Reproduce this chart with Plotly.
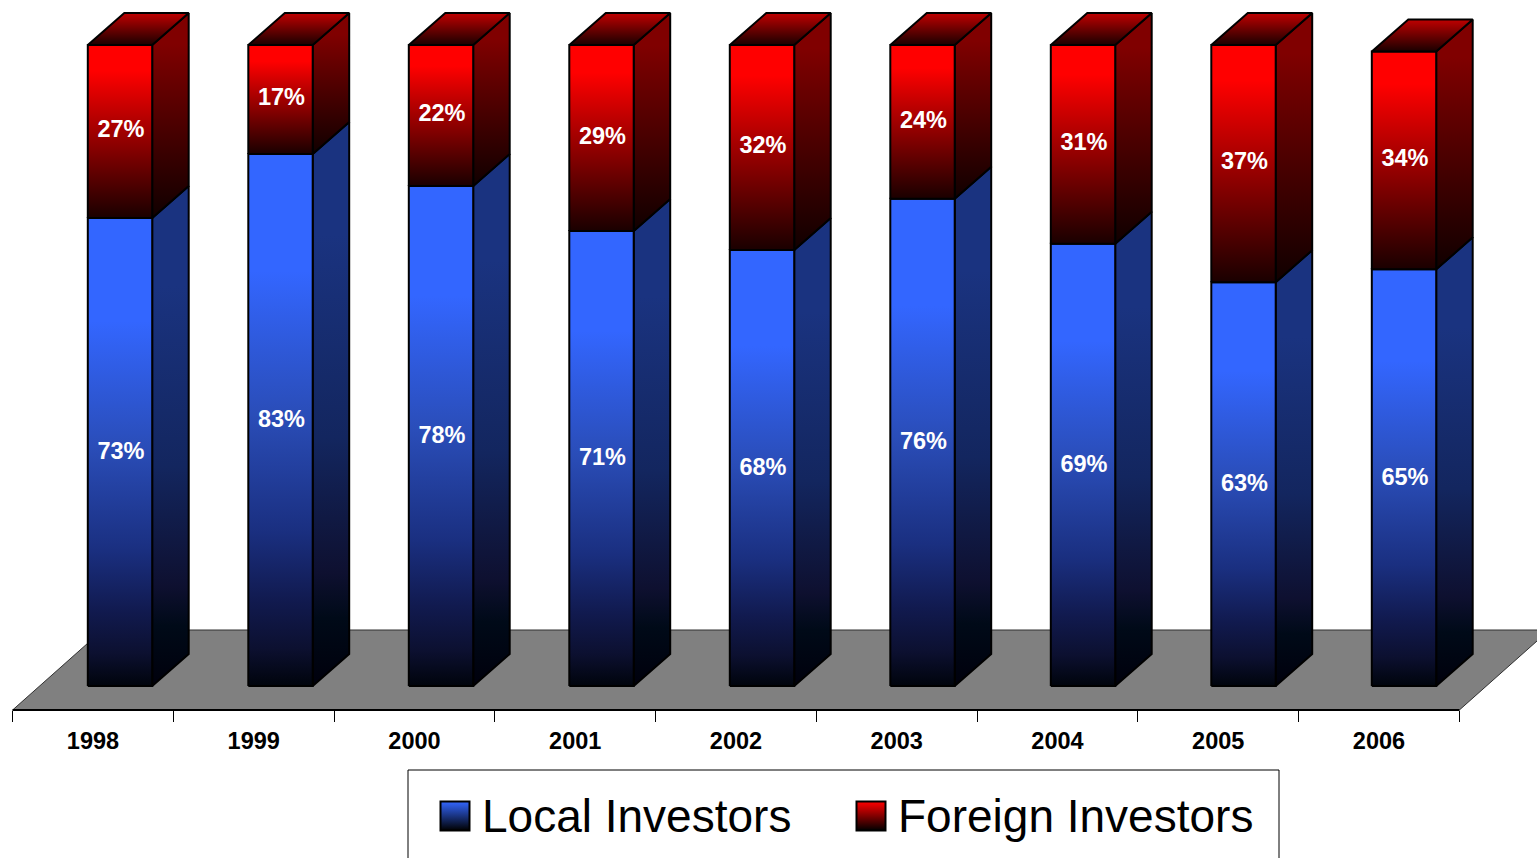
import plotly.graph_objects as go

# Share of market capitalisation held by each investor group, in percent
YEARS = ["1998", "1999", "2000", "2001", "2002", "2003", "2004", "2005", "2006"]
LOCAL = [73, 83, 78, 71, 68, 76, 69, 63, 65]
FOREIGN = [27, 17, 22, 29, 32, 24, 31, 37, 34]

SERIES_NAMES = ["Local Investors", "Foreign Investors"]

WIDTH, HEIGHT = 1537, 858

# Axis scale: pixels per category and pixels per percentage point
PX_X = 160.75
PX_Y = 6.41
X0_PX = 93.0    # page column of the first category
Y0_PX = 686.0   # page row of 0 %

XRANGE = [-X0_PX / PX_X, (WIDTH - X0_PX) / PX_X]
YRANGE = [-(HEIGHT - Y0_PX) / PX_Y, Y0_PX / PX_Y]


def data_x(px):
    return (px - X0_PX) / PX_X


def data_y(py):
    return (Y0_PX - py) / PX_Y


# Extruded-bar geometry in axis units
BAR_SHIFT = 27 / PX_X
BAR_PITCH = 160.5 / PX_X
BAR_HALF = 32.2 / PX_X
DEPTH_X = 36.5 / PX_X
DEPTH_Y = 32 / PX_Y

FLOOR_FRONT = data_y(710)
FLOOR_BACK = data_y(630)
FLOOR_DX = 90 / PX_X

BLUE_FRONT = [[0, "#3366ff"], [0.22, "#3366ff"], [0.49, "#2a4db8"], [0.71, "#1a2f80"],
              [0.84, "#111a4f"], [0.93, "#0c1030"], [1, "#00040c"]]
BLUE_SIDE = [[0, "#1a3380"], [0.2, "#1a3380"], [0.56, "#13265f"], [0.8, "#0e1030"],
             [0.88, "#000a18"], [1, "#00000c"]]
RED_FRONT = [[0, "#ff0000"], [0.15, "#ff0000"], [1, "#1a0000"]]
RED_SIDE = [[0, "#800000"], [0.15, "#800000"], [1, "#100000"]]
RED_TOP = [[0, "#c00000"], [1, "#1a0000"]]


def polygon(name, xs, ys, scale):
    top, bottom = max(ys), min(ys)
    return go.Scatter(
        x=xs + xs[:1],
        y=ys + ys[:1],
        name=name,
        mode="lines",
        fill="toself",
        fillgradient=dict(type="vertical", colorscale=scale, start=top, stop=bottom),
        line=dict(color="#000000", width=2),
        hoverinfo="skip",
        showlegend=False,
    )


fig = go.Figure()

# Floor of the chart
left = -0.5
right = len(YEARS) - 0.5
fig.add_trace(go.Scatter(
    x=[left, right, right + FLOOR_DX, left + FLOOR_DX, left],
    y=[FLOOR_FRONT, FLOOR_FRONT, FLOOR_BACK, FLOOR_BACK, FLOOR_FRONT],
    mode="lines", fill="toself", fillcolor="#808080",
    line=dict(color="#303030", width=1), hoverinfo="skip", showlegend=False,
))
fig.add_trace(go.Scatter(
    x=[left, right], y=[FLOOR_FRONT, FLOOR_FRONT],
    mode="lines", line=dict(color="#000000", width=2),
    hoverinfo="skip", showlegend=False,
))

# Stacked bars, drawn left to right so each face overlaps correctly
centers = [i * BAR_PITCH + BAR_SHIFT for i in range(len(YEARS))]
for year, c, lo, fo in zip(YEARS, centers, LOCAL, FOREIGN):
    xl, xr = c - BAR_HALF, c + BAR_HALF
    total = lo + fo
    fig.add_trace(polygon(f"{year} local side",
                          [xr, xr + DEPTH_X, xr + DEPTH_X, xr],
                          [0, DEPTH_Y, lo + DEPTH_Y, lo], BLUE_SIDE))
    fig.add_trace(polygon(f"{year} local",
                          [xl, xr, xr, xl], [0, 0, lo, lo], BLUE_FRONT))
    fig.add_trace(polygon(f"{year} foreign side",
                          [xr, xr + DEPTH_X, xr + DEPTH_X, xr],
                          [lo, lo + DEPTH_Y, total + DEPTH_Y, total], RED_SIDE))
    fig.add_trace(polygon(f"{year} foreign",
                          [xl, xr, xr, xl], [lo, lo, total, total], RED_FRONT))
    fig.add_trace(polygon(f"{year} top",
                          [xl, xr, xr + DEPTH_X, xl + DEPTH_X],
                          [total, total, total + DEPTH_Y, total + DEPTH_Y], RED_TOP))

# Percentage labels centred in each stack segment
LABEL_FONT = dict(family="Liberation Sans", size=23.5, color="#ffffff", weight="bold")
label_x = [c + 1 / PX_X for c in centers]
fig.add_trace(go.Scatter(
    x=label_x, y=[v / 2 - 1 / PX_Y for v in LOCAL],
    text=[f"{v}%" for v in LOCAL], mode="text", textposition="middle center",
    textfont=LABEL_FONT, hoverinfo="skip", showlegend=False,
))
fig.add_trace(go.Scatter(
    x=label_x, y=[lo + fo / 2 for lo, fo in zip(LOCAL, FOREIGN)],
    text=[f"{v}%" for v in FOREIGN], mode="text", textposition="middle center",
    textfont=LABEL_FONT, hoverinfo="skip", showlegend=False,
))

# Key below the axis
SWATCH_PX = [(455, "#3366ff"), (871, "#ff0000")]
TEXT_PX = [483, 899]
for (sx, color), name, tx in zip(SWATCH_PX, SERIES_NAMES, TEXT_PX):
    fig.add_trace(go.Scatter(
        x=[data_x(sx)], y=[data_y(816)], mode="markers",
        marker=dict(symbol="square", size=29, color=color,
                    gradient=dict(type="vertical", color="#000000"),
                    line=dict(color="#000000", width=2)),
        hoverinfo="skip", showlegend=False,
    ))
    fig.add_annotation(
        xref="paper", yref="paper", x=tx / WIDTH, y=1 - 816 / HEIGHT,
        text=name, showarrow=False, xanchor="left", yanchor="middle",
        font=dict(family="Liberation Sans", size=46, color="#000000"),
        xshift=-3,
    )

box_l, box_r = 408 / WIDTH, 1279 / WIDTH
box_t = 1 - 770 / HEIGHT
fig.add_shape(
    type="path", xref="paper", yref="paper",
    path=f"M {box_l} 0 L {box_l} {box_t} L {box_r} {box_t} L {box_r} 0",
    line=dict(color="#000000", width=1),
)

boundaries = [i - 0.5 for i in range(len(YEARS) + 1)]
fig.update_layout(
    width=WIDTH, height=HEIGHT,
    margin=dict(l=0, r=0, t=0, b=0),
    paper_bgcolor="#ffffff", plot_bgcolor="#ffffff",
    showlegend=False,
    xaxis=dict(
        range=XRANGE, domain=[0, 1], anchor="free", position=1 - 710 / HEIGHT,
        tickmode="array", tickvals=list(range(len(YEARS))), ticktext=YEARS,
        ticks="outside", ticklen=4, tickcolor="rgba(0,0,0,0)", ticklabelstandoff=6,
        tickfont=dict(family="Liberation Sans", size=23.5, color="#000000", weight="bold"),
        showgrid=False, zeroline=False, showline=False,
        minor=dict(tickmode="array", tickvals=boundaries, ticks="outside", ticklen=11,
                   tickwidth=1, tickcolor="#000000", showgrid=False),
    ),
    yaxis=dict(range=YRANGE, domain=[0, 1], visible=False, showgrid=False, zeroline=False),
)

fig.write_html("out.html")
